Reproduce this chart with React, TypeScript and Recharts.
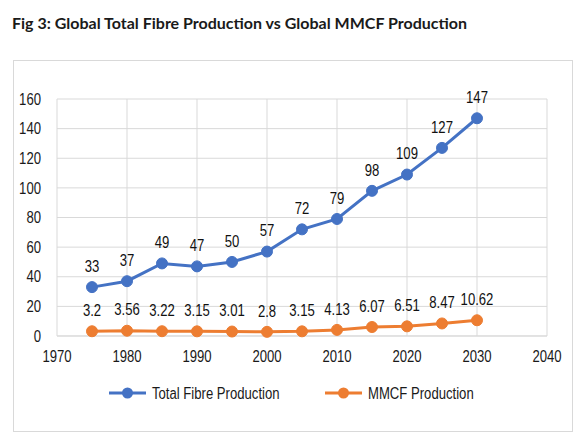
import React from 'react';
import {
  LineChart,
  Line,
  XAxis,
  YAxis,
  CartesianGrid,
  LabelList,
} from 'recharts';

const years = [1975, 1980, 1985, 1990, 1995, 2000, 2005, 2010, 2015, 2020, 2025, 2030];
const totalFibre = [33, 37, 49, 47, 50, 57, 72, 79, 98, 109, 127, 147];
const mmcf = [3.2, 3.56, 3.22, 3.15, 3.01, 2.8, 3.15, 4.13, 6.07, 6.51, 8.47, 10.62];
const xTicks = [1970, 1980, 1990, 2000, 2010, 2020, 2030, 2040];
const yTicks = [0, 20, 40, 60, 80, 100, 120, 140, 160];

const data = years.map((year, i) => ({ year, total: totalFibre[i], mmcf: mmcf[i] }));

const BLUE = '#4472c4';
const ORANGE = '#ed7d31';
const FONT = "'Liberation Sans', Arial, sans-serif";
const SQUEEZE = 0.82; // fake an Arial Narrow look

// text squeezed horizontally around its anchor point
const NarrowText = ({ x, y, anchor = 'middle', dy = '0.355em', size = 16, fill = '#1a1a1a', children }: any) => (
  <text
    transform={`translate(${x},${y}) scale(${SQUEEZE},1)`}
    textAnchor={anchor}
    dy={dy}
    fontSize={size}
    fontFamily={FONT}
    fill={fill}
  >
    {children}
  </text>
);

const XTick = ({ x, y, payload }: any) => (
  <NarrowText x={x} y={y} dy="0.71em">{payload.value}</NarrowText>
);

const YTick = ({ x, y, payload }: any) => (
  <NarrowText x={x} y={y} anchor="end">{payload.value}</NarrowText>
);

const PointLabel = ({ x, y, value }: any) => (
  <NarrowText x={x} y={y - 21} fill="#111">{value}</NarrowText>
);

const legendItems = [
  { name: 'Total Fibre Production', color: BLUE, x: 109 },
  { name: 'MMCF Production', color: ORANGE, x: 325 },
];

export default function App() {
  return (
    <div style={{ position: 'absolute', left: 0, top: 0, width: 586, height: 436, background: '#fff' }}>
      <div
        style={{
          position: 'absolute',
          left: 12,
          top: 13,
          fontFamily: 'Lato, sans-serif',
          fontWeight: 700,
          fontSize: 16,
          color: '#1a1a1a',
          whiteSpace: 'nowrap',
        }}
      >
        Fig 3: Global Total Fibre Production vs Global MMCF Production
      </div>
      <div
        style={{
          position: 'absolute',
          left: 13,
          top: 60,
          width: 560,
          height: 372,
          border: '1px solid #d9d9d9',
          boxSizing: 'border-box',
        }}
      />
      <div style={{ position: 'absolute', left: 0, top: 0 }}>
        <LineChart width={586} height={436} data={data} margin={{ top: 99, right: 39, bottom: 70, left: 13 }}>
          <CartesianGrid stroke="#d9d9d9" strokeWidth={1} />
          <XAxis
            dataKey="year"
            type="number"
            domain={[1970, 2040]}
            ticks={xTicks}
            interval={0}
            tick={<XTick />}
            axisLine={{ stroke: '#d9d9d9' }}
            tickLine={false}
            tickMargin={9}
            height={30}
          />
          <YAxis
            domain={[0, 160]}
            ticks={yTicks}
            interval={0}
            width={44}
            tick={<YTick />}
            axisLine={false}
            tickLine={false}
            tickMargin={10}
          />
          <Line
            dataKey="total"
            name="Total Fibre Production"
            stroke={BLUE}
            strokeWidth={3}
            dot={{ r: 5.5, fill: BLUE, stroke: BLUE, strokeWidth: 1 }}
            isAnimationActive={false}
          >
            <LabelList dataKey="total" content={<PointLabel />} />
          </Line>
          <Line
            dataKey="mmcf"
            name="MMCF Production"
            stroke={ORANGE}
            strokeWidth={3}
            dot={{ r: 5.5, fill: ORANGE, stroke: ORANGE, strokeWidth: 1 }}
            isAnimationActive={false}
          >
            <LabelList dataKey="mmcf" content={<PointLabel />} />
          </Line>
        </LineChart>
      </div>
      <svg width={586} height={30} style={{ position: 'absolute', left: 0, top: 378 }}>
        {legendItems.map((item) => (
          <g key={item.name}>
            <line x1={item.x} y1={15} x2={item.x + 37} y2={15} stroke={item.color} strokeWidth={3} />
            <circle cx={item.x + 18.5} cy={15} r={5.5} fill={item.color} />
            <NarrowText x={item.x + 43} y={15} anchor="start">{item.name}</NarrowText>
          </g>
        ))}
      </svg>
    </div>
  );
}
